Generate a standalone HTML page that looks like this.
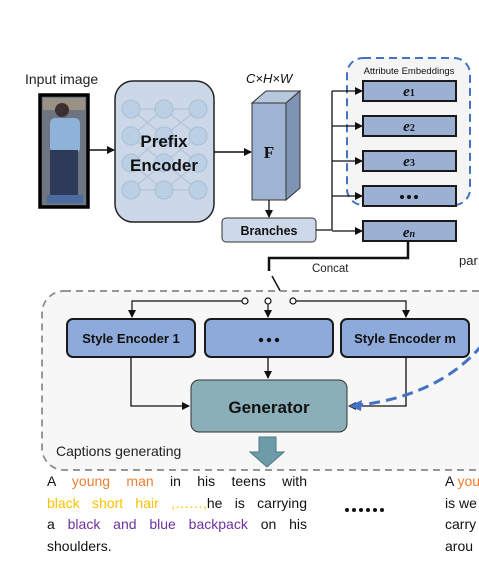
<!DOCTYPE html>
<html><head><meta charset="utf-8"><style>
html,body{margin:0;padding:0;background:#fff;width:479px;height:561px;overflow:hidden}
svg{display:block}
.t{font-family:"Liberation Sans","DejaVu Sans",sans-serif}
.cap{position:absolute;font-family:"Liberation Sans","DejaVu Sans",sans-serif;font-size:14px;line-height:21.7px;color:#111}
.cap div{text-align:justify;text-align-last:justify;white-space:nowrap}
.cap div.l{text-align-last:left}
.o{color:#ed7d31}.y{color:#ffc000}.p{color:#7030a0}
</style></head><body>
<div style="position:relative;width:479px;height:561px">
<svg width="479" height="561" viewBox="0 0 479 561">
<defs>
<marker id="a" markerWidth="8" markerHeight="8" refX="7" refY="4" orient="auto" markerUnits="userSpaceOnUse"><path d="M0,0 L8,4 L0,8z" fill="#111"/></marker>
</defs>
<text x="25" y="84" class="t" font-size="14" fill="#222">Input image</text>
<rect x="40" y="95" width="48" height="112" fill="#6e7480" stroke="#000" stroke-width="3.5"/>
<rect x="43" y="98" width="42" height="12" fill="#9a9185"/>
<circle cx="62" cy="110" r="7" fill="#3a3030"/>
<rect x="50" y="118" width="30" height="35" rx="5" fill="#8fb2d8"/>
<rect x="50" y="150" width="28" height="45" fill="#2d3a5a"/>
<rect x="47" y="195" width="36" height="8" fill="#4a6aa0"/>
<line x1="88" y1="150" x2="114" y2="150" stroke="#111" stroke-width="1.5" marker-end="url(#a)"/>
<rect x="115" y="81" width="99" height="141" rx="18" fill="#ccd8e7" stroke="#222" stroke-width="1.5"/>
<g stroke="#a8b8cc" stroke-width="1" opacity="0.8">
<path d="M131,109 L164,136 M131,136 L164,109 M131,136 L164,163 M131,163 L164,136 M131,163 L164,190 M131,190 L164,163 M164,109 L198,136 M164,136 L198,109 M164,136 L198,163 M164,163 L198,136 M164,163 L198,190 M164,190 L198,163 M131,109 L198,109 M131,190 L198,190"/>
</g>
<g fill="#bcd0e5" stroke="#a9bdd3">
<circle cx="131" cy="109" r="9"/><circle cx="164" cy="109" r="9"/><circle cx="198" cy="109" r="9"/>
<circle cx="131" cy="136" r="9"/><circle cx="164" cy="136" r="9"/><circle cx="198" cy="136" r="9"/>
<circle cx="131" cy="163" r="9"/><circle cx="164" cy="163" r="9"/><circle cx="198" cy="163" r="9"/>
<circle cx="131" cy="190" r="9"/><circle cx="164" cy="190" r="9"/><circle cx="198" cy="190" r="9"/>
</g>
<text x="164" y="147" class="t" font-size="17" font-weight="bold" text-anchor="middle" fill="#111">Prefix</text>
<text x="164" y="171" class="t" font-size="17" font-weight="bold" text-anchor="middle" fill="#111">Encoder</text>
<line x1="214" y1="152" x2="251" y2="152" stroke="#111" stroke-width="1.5" marker-end="url(#a)"/>
<text x="246" y="83" class="t" font-size="13" font-style="italic" fill="#111">C×H×W</text>
<path d="M252,103 L266,91 L300,91 L286,103z" fill="#b7c7de" stroke="#333" stroke-width="1"/>
<path d="M286,103 L300,91 L300,188 L286,200z" fill="#7f93b3" stroke="#333" stroke-width="1"/>
<rect x="252" y="103" width="34" height="97" fill="#9fb3d3" stroke="#333" stroke-width="1"/>
<text x="269" y="158" font-family="Liberation Serif,serif" font-size="17" font-weight="bold" text-anchor="middle" fill="#111">F</text>
<line x1="269" y1="200" x2="269" y2="217" stroke="#111" stroke-width="1.3" marker-end="url(#a)"/>
<rect x="222" y="218" width="94" height="24" rx="4" fill="#cdd9ea" stroke="#333" stroke-width="1"/>
<text x="269" y="235" class="t" font-size="12.5" font-weight="bold" text-anchor="middle" fill="#111">Branches</text>
<rect x="347" y="58" width="123" height="147" rx="16" fill="#f5f5f5" stroke="#4472c4" stroke-width="2" stroke-dasharray="8,5"/>
<text x="409" y="74" class="t" font-size="9.5" text-anchor="middle" fill="#111">Attribute Embeddings</text>
<path d="M316,230 L332,230 M332,91 L332,230" stroke="#111" stroke-width="1.3" fill="none"/>
<g stroke="#111" stroke-width="1.3" marker-end="url(#a)">
<line x1="332" y1="91" x2="362" y2="91"/><line x1="332" y1="126" x2="362" y2="126"/>
<line x1="332" y1="161" x2="362" y2="161"/><line x1="332" y1="196" x2="362" y2="196"/>
<line x1="332" y1="231" x2="362" y2="231"/>
</g>
<g fill="#9bb0d3" stroke="#1a1a1a" stroke-width="2">
<rect x="363" y="81" width="93" height="20"/><rect x="363" y="116" width="93" height="20"/>
<rect x="363" y="151" width="93" height="20"/><rect x="363" y="186" width="93" height="20"/>
<rect x="363" y="221" width="93" height="20"/>
</g>
<g font-family="Liberation Serif,serif" font-weight="bold" font-style="italic" font-size="15" fill="#111" text-anchor="middle">
<text x="409" y="96">e<tspan font-size="10" font-style="normal">1</tspan></text>
<text x="409" y="131">e<tspan font-size="10" font-style="normal">2</tspan></text>
<text x="409" y="166">e<tspan font-size="10" font-style="normal">3</tspan></text>
<text x="409" y="237">e<tspan font-size="10">n</tspan></text>
</g>
<g fill="#111"><circle cx="402" cy="197" r="2"/><circle cx="409" cy="197" r="2"/><circle cx="416" cy="197" r="2"/></g>
<path d="M408,241 L408,258 L269,258 L269,271" stroke="#111" stroke-width="2.5" fill="none"/>
<line x1="272" y1="276" x2="283" y2="296" stroke="#111" stroke-width="1.5"/>
<text x="312" y="272" class="t" font-size="11.5" fill="#222">Concat</text>
<text x="459" y="265" class="t" font-size="13" fill="#222">par</text>
<rect x="42" y="291" width="460" height="179" rx="22" fill="#f7f7f7" stroke="#888" stroke-width="1.7" stroke-dasharray="7,5"/>
<path d="M242,301 L132,301 L132,317" stroke="#111" stroke-width="1.2" fill="none" marker-end="url(#a)"/>
<path d="M268,304 L268,317" stroke="#111" stroke-width="1.2" fill="none" marker-end="url(#a)"/>
<path d="M296,301 L406,301 L406,317" stroke="#111" stroke-width="1.2" fill="none" marker-end="url(#a)"/>
<g fill="#fff" stroke="#111" stroke-width="1.2"><circle cx="245" cy="301" r="3"/><circle cx="268" cy="301" r="3"/><circle cx="293" cy="301" r="3"/></g>
<g fill="#8eaadb" stroke="#1a1a1a" stroke-width="2">
<rect x="67" y="319" width="128" height="38" rx="6"/><rect x="205" y="319" width="128" height="38" rx="6"/><rect x="341" y="319" width="128" height="38" rx="6"/>
</g>
<g class="t" font-size="13" font-weight="bold" fill="#111" text-anchor="middle">
<text x="131" y="343">Style Encoder 1</text><text x="405" y="343">Style Encoder m</text>
</g>
<g fill="#111"><circle cx="261" cy="340" r="2.2"/><circle cx="269" cy="340" r="2.2"/><circle cx="277" cy="340" r="2.2"/></g>
<rect x="191" y="380" width="156" height="52" rx="8" fill="#8aafb9" stroke="#333" stroke-width="1"/>
<text x="269" y="413" class="t" font-size="17" font-weight="bold" text-anchor="middle" fill="#111">Generator</text>
<path d="M131,357 L131,406 L189,406" stroke="#111" stroke-width="1.3" fill="none" marker-end="url(#a)"/>
<path d="M268,357 L268,378" stroke="#111" stroke-width="1.3" fill="none" marker-end="url(#a)"/>
<path d="M406,357 L406,406 L349,406" stroke="#111" stroke-width="1.3" fill="none" marker-end="url(#a)"/>
<path d="M482,345 Q440,395 360,405" stroke="#4472c4" stroke-width="3" fill="none" stroke-dasharray="11,6"/>
<path d="M349,406 L362,400 L361,411z" fill="#4472c4"/>
<text x="56" y="456" class="t" font-size="14" fill="#222">Captions generating</text>
<path d="M259,437 L276,437 L276,452 L284,452 L267,467 L250,452 L259,452z" fill="#6e9ba8" stroke="#4a7888" stroke-width="1"/>
<g fill="#111"><circle cx="347" cy="510" r="2"/><circle cx="354" cy="510" r="2"/><circle cx="361" cy="510" r="2"/><circle cx="368" cy="510" r="2"/><circle cx="375" cy="510" r="2"/><circle cx="382" cy="510" r="2"/></g>
</svg>
<div class="cap" style="left:47px;top:471px;width:260px">
<div>A <span class="o">young man</span> in his teens with</div>
<div><span class="y">black short hair ,……,</span>he is carrying</div>
<div>a <span class="p">black and blue backpack</span> on his</div>
<div class="l">shoulders.</div>
</div>
<div class="cap" style="left:445px;top:471px;width:80px;white-space:nowrap">A <span class="o">young</span><br>is we<br>carry<br>arou</div>
</div>
</body></html>
